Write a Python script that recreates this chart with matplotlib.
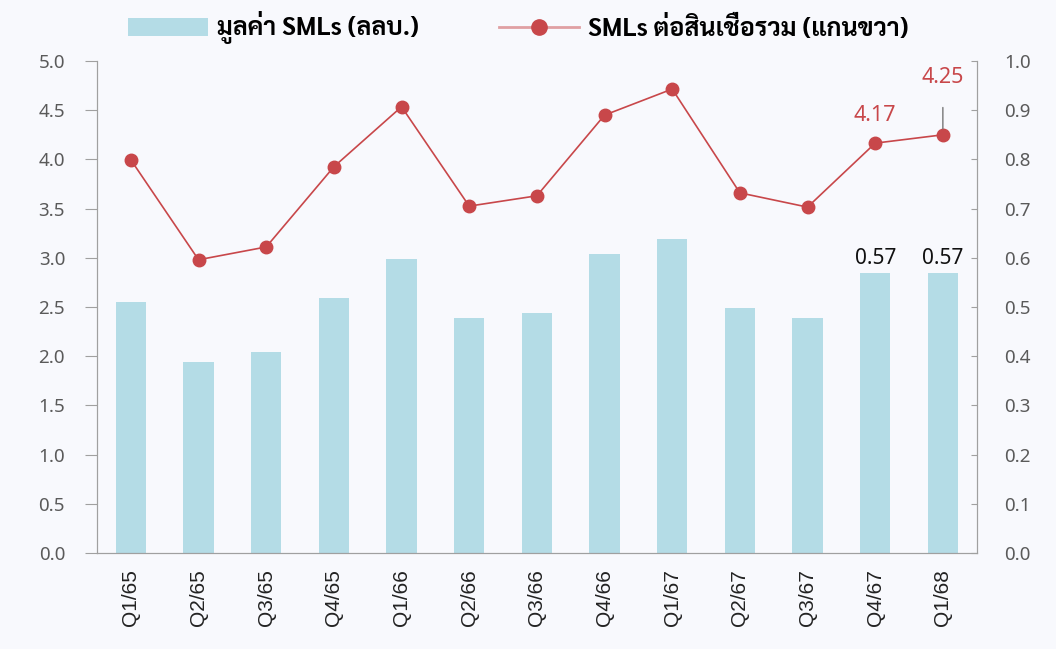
import matplotlib
matplotlib.use('Agg')
import matplotlib.pyplot as plt
import numpy as np

plt.rcParams['font.family'] = ['Noto Sans', 'Sarabun', 'DejaVu Sans']

quarters = ['Q1/65', 'Q2/65', 'Q3/65', 'Q4/65', 'Q1/66', 'Q2/66', 'Q3/66',
            'Q4/66', 'Q1/67', 'Q2/67', 'Q3/67', 'Q4/67', 'Q1/68']
sml_value = [2.55, 1.94, 2.04, 2.59, 2.99, 2.39, 2.44, 3.04, 3.19, 2.49, 2.39, 2.85, 2.85]
sml_ratio = [0.799, 0.596, 0.622, 0.785, 0.907, 0.705, 0.726, 0.890, 0.943, 0.732, 0.703, 0.833, 0.850]
bar_labels = {11: '0.57', 12: '0.57'}
line_labels = {11: '4.17', 12: '4.25'}

BG = '#F8F9FD'
BAR = '#B4DCE6'
RED = '#C8474A'
GRAY = '#A0A0A0'

fig = plt.figure(figsize=(10.56, 6.49), dpi=100, facecolor=BG)
ax = fig.add_axes([0.0919, 0.148, 0.833, 0.758], facecolor=BG)
ax2 = ax.twinx()

x = np.arange(len(quarters))
bars = ax.bar(x, sml_value, width=0.45, color=BAR, label='มูลค่า SMLs (ลลบ.)', zorder=2)
ln, = ax2.plot(x, sml_ratio, color=RED, lw=1.2, marker='o', ms=9, mfc=RED, mec=RED,
               label='SMLs ต่อสินเชื่อรวม (แกนขวา)', zorder=3)

ax.set_xlim(-0.5, len(quarters) - 0.5)
ax.set_ylim(0, 5)
ax2.set_ylim(0, 1)
ax.set_yticks(np.arange(0, 5.01, 0.5))
ax.set_yticklabels([f'{v:.1f}' for v in np.arange(0, 5.01, 0.5)])
ax2.set_yticks(np.arange(0, 1.001, 0.1))
ax2.set_yticklabels([f'{v:.1f}' for v in np.arange(0, 1.001, 0.1)])
ax.set_xticks(x)
ax.set_xticklabels(quarters, rotation=90, fontsize=15, color='#222222',
                   family=['Liberation Sans', 'DejaVu Sans'])

for a in (ax, ax2):
    for s in a.spines.values():
        s.set_color(GRAY)
    a.spines['top'].set_visible(False)
ax.tick_params(axis='y', colors=GRAY, labelcolor='#5a5a5a', labelsize=13.5, length=9, pad=14)
ax2.tick_params(axis='y', colors=GRAY, labelcolor='#5a5a5a', labelsize=13.5, length=4,
                direction='in', pad=20)
ax.tick_params(axis='x', length=0, pad=12)

for i, t in bar_labels.items():
    ax.text(x[i], sml_value[i] + 0.04, t, ha='center', va='bottom', fontsize=15,
            fontweight='bold', color='#111111')
ax2.text(x[11], sml_ratio[11] + 0.035, line_labels[11], ha='center', va='bottom',
         fontsize=15.5, color=RED)
ax2.annotate(line_labels[12], xy=(x[12], sml_ratio[12] + 0.012), xytext=(x[12], sml_ratio[12] + 0.095),
             ha='center', va='bottom', fontsize=15.5, color=RED,
             arrowprops=dict(arrowstyle='-', color='#777777', lw=1, shrinkA=12, shrinkB=0))

leg = fig.legend(handles=[bars, ln], loc='center left', bbox_to_anchor=(128 / 1056, 1 - 28 / 649),
                 ncol=2, frameon=False, handlelength=3.2, handletextpad=0.36, columnspacing=3.2,
                 borderpad=0, borderaxespad=0,
                 prop={'family': ['Sarabun', 'DejaVu Sans'], 'weight': 'bold', 'size': 18})
leg.get_lines()[0].set_color('#E0A0A3')
leg.get_lines()[0].set_linewidth(2)
leg.get_lines()[0].set_markerfacecolor(RED)
leg.get_lines()[0].set_markeredgecolor(RED)
leg.get_lines()[0].set_markersize(11)

fig.savefig('out.png', dpi=100, facecolor=BG)
